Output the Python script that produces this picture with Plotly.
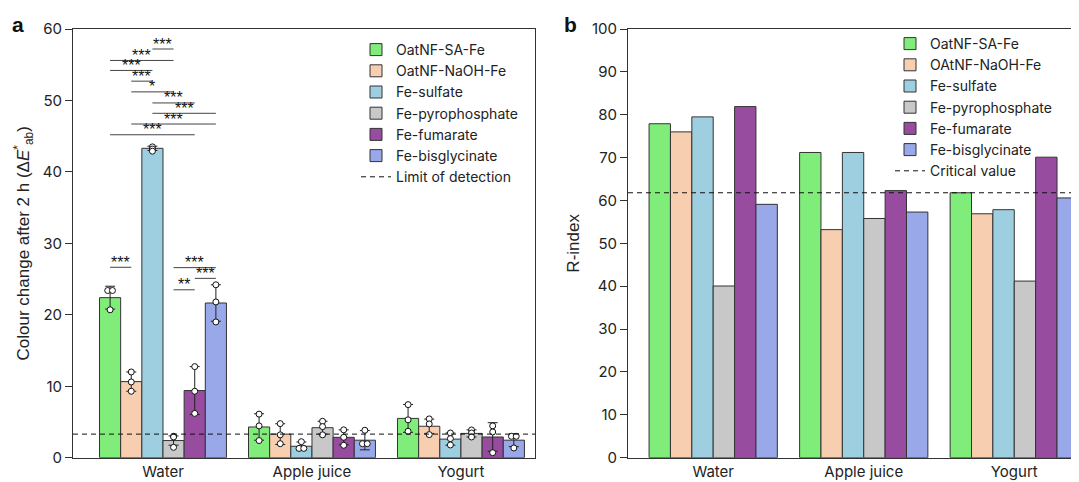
import numpy as np
import plotly.graph_objects as go

# ---------------- data ----------------
categories = ["Water", "Apple juice", "Yogurt"]
series_a = ["OatNF-SA-Fe", "OatNF-NaOH-Fe", "Fe-sulfate", "Fe-pyrophosphate", "Fe-fumarate", "Fe-bisglycinate"]
series_b = ["OatNF-SA-Fe", "OAtNF-NaOH-Fe", "Fe-sulfate", "Fe-pyrophosphate", "Fe-fumarate", "Fe-bisglycinate"]
colors = ["#80ec7a", "#f7cfb0", "#9ecfe0", "#c8c8c8", "#984ca0", "#98a8e8"]

# panel a: mean colour change (Water, Apple juice, Yogurt)
mean_sa = [22.4, 4.3, 5.5]
mean_naoh = [10.65, 3.3, 4.4]
mean_sulfate = [43.3, 1.6, 2.6]
mean_pyro = [2.4, 4.2, 3.4]
mean_fumarate = [9.4, 2.85, 2.9]
mean_bisgly = [21.65, 2.45, 2.45]

sd_sa = [1.6, 1.85, 1.95]
sd_naoh = [1.35, 1.45, 1.0]
sd_sulfate = [0.3, 0.6, 0.85]
sd_pyro = [0.65, 0.9, 0.5]
sd_fumarate = [3.35, 1.05, 2.0]
sd_bisgly = [2.55, 1.35, 0.9]

# replicate points [category][replicate]
rep_sa = [[23.4, 23.4, 20.7], [6.1, 4.45, 2.4], [7.43, 5.3, 3.7]]
rep_naoh = [[12.0, 10.6, 9.3], [4.77, 3.2, 1.96], [5.43, 4.73, 3.23]]
rep_sulfate = [[43.5, 43.2, 42.9], [2.24, 1.3, 1.3], [3.46, 2.67, 1.78]]
rep_pyro = [[3.0, 2.9, 1.45], [5.1, 4.35, 3.2], [3.88, 3.46, 2.9]]
rep_fumarate = [[12.75, 9.3, 6.2], [3.9, 2.86, 1.74], [4.45, 3.6, 0.7]]
rep_bisgly = [[24.2, 21.8, 19.0], [3.84, 1.96, 1.96], [3.0, 3.0, 1.36]]

limit_of_detection = 3.3

# significance brackets in Water group: (series i, series j, height, label)
brackets = [
    (2, 3, 57.2, "***"),
    (0, 3, 55.6, "***"),
    (0, 2, 54.2, "***"),
    (1, 2, 52.7, "***"),
    (1, 3, 51.2, "*"),
    (2, 4, 49.65, "***"),
    (2, 5, 48.2, "***"),
    (1, 5, 46.7, "***"),
    (0, 4, 45.2, "***"),
    (0, 1, 26.65, "***"),
    (3, 5, 26.6, "***"),
    (4, 5, 25.1, "***"),
    (3, 4, 23.5, "**"),
]

# panel b: R-index
r_sa = [77.9, 71.2, 61.8]
r_naoh = [76.0, 53.2, 56.9]
r_sulfate = [79.5, 71.2, 57.85]
r_pyro = [40.05, 55.8, 41.2]
r_fumarate = [81.9, 62.3, 70.1]
r_bisgly = [59.1, 57.3, 60.6]
critical_value = 61.8

means_a = [mean_sa, mean_naoh, mean_sulfate, mean_pyro, mean_fumarate, mean_bisgly]
sds_a = [sd_sa, sd_naoh, sd_sulfate, sd_pyro, sd_fumarate, sd_bisgly]
reps_a = [rep_sa, rep_naoh, rep_sulfate, rep_pyro, rep_fumarate, rep_bisgly]
vals_b = [r_sa, r_naoh, r_sulfate, r_pyro, r_fumarate, r_bisgly]

# ---------------- layout helpers ----------------
OFF = 8  # page body margin
W, H = 1079 - OFF, 482 - OFF
def PX(x):
    return (x - OFF) / W
def PY(y):
    return 1 - (y - OFF) / H

BW = 0.142  # bar width in category units
gidx = np.arange(len(categories))
def offs(i):
    return (i - 2.5) * BW

TICKFONT = dict(family="Inter, Liberation Sans, sans-serif", size=15, color="#222")
LEGFONT = dict(family="Inter, Liberation Sans, sans-serif", size=14, color="#222")
TITLEFONT = dict(family="Liberation Sans, Arial, sans-serif", size=17, color="#222")

fig = go.Figure()

# panel a bars
for i, name in enumerate(series_a):
    fig.add_trace(go.Bar(
        x=gidx + offs(i), y=means_a[i], width=BW, name=name,
        marker=dict(color=colors[i], line=dict(color="#333", width=1)),
        error_y=dict(type="data", array=sds_a[i], color="#222", thickness=1, width=5),
        xaxis="x", yaxis="y", legend="legend", legendgroup="a%d" % i,
        hoverinfo="skip",
    ))
# replicate points
for i in range(len(series_a)):
    px, py = [], []
    for g in range(len(categories)):
        reps = reps_a[i][g]
        for k, v in enumerate(reps):
            dup = sum(1 for vv in reps if abs(vv - v) < 1e-9) > 1
            first = reps.index(v) == k
            dx = (-0.016 if first else 0.016) if dup else 0.0
            px.append(g + offs(i) + dx)
            py.append(v)
    fig.add_trace(go.Scatter(
        x=px, y=py, mode="markers", showlegend=False,
        marker=dict(color="white", size=6, line=dict(color="#111", width=1)),
        xaxis="x", yaxis="y", hoverinfo="skip",
    ))

# panel b bars
for i, name in enumerate(series_b):
    fig.add_trace(go.Bar(
        x=gidx + offs(i), y=vals_b[i], width=BW, name=name,
        marker=dict(color=colors[i], line=dict(color="#333", width=1)),
        xaxis="x2", yaxis="y2", legend="legend2", legendgroup="b%d" % i,
        hoverinfo="skip",
    ))

shapes = []
annotations = []
# dashed reference lines (with legend entries)
shapes.append(dict(type="line", xref="x domain", yref="y", x0=0, x1=1,
                   y0=limit_of_detection, y1=limit_of_detection,
                   line=dict(color="#111", width=1, dash="5px,4px"),
                   showlegend=True, name="Limit of detection", legend="legend",
                   legendgroup="a9"))
shapes.append(dict(type="line", xref="x2 domain", yref="y2", x0=0, x1=1,
                   y0=critical_value, y1=critical_value,
                   line=dict(color="#111", width=1, dash="5px,4px"),
                   showlegend=True, name="Critical value", legend="legend2",
                   legendgroup="b9"))

# significance brackets
for (i, j, yv, lab) in brackets:
    x0 = gidx[0] + offs(i)
    x1 = gidx[0] + offs(j)
    shapes.append(dict(type="line", xref="x", yref="y", x0=x0, x1=x1, y0=yv, y1=yv,
                       line=dict(color="#444", width=1)))
    annotations.append(dict(x=(x0 + x1) / 2, y=yv, xref="x", yref="y", text=lab,
                            showarrow=False, yanchor="middle", yshift=5,
                            font=dict(family="Liberation Sans, Arial, sans-serif", size=16, color="#111")))

# panel labels
annotations.append(dict(x=PX(18), y=PY(24), xref="paper", yref="paper", text="<b>a</b>",
                        showarrow=False, xanchor="center", yanchor="middle",
                        font=dict(family="Liberation Sans, Arial, sans-serif", size=21, color="#111")))
annotations.append(dict(x=PX(570), y=PY(24), xref="paper", yref="paper", text="<b>b</b>",
                        showarrow=False, xanchor="center", yanchor="middle",
                        font=dict(family="Liberation Sans, Arial, sans-serif", size=21, color="#111")))

ydom = [PY(457.7), PY(29)]
axis_common = dict(showline=True, linecolor="#333", linewidth=1, mirror=True,
                   showgrid=False, zeroline=False, tickfont=TICKFONT, automargin=False)

fig.update_layout(
    width=W, height=H, margin=dict(l=0, r=0, t=0, b=0, autoexpand=False),
    paper_bgcolor="white", plot_bgcolor="white",
    barmode="overlay", showlegend=True,
    xaxis=dict(domain=[PX(73), PX(535)], range=[-0.604, 2.497],
               tickvals=list(gidx), ticktext=categories, ticks="", **axis_common),
    yaxis=dict(domain=ydom, range=[0, 60], dtick=10, ticks="outside", ticklen=7,
               tickcolor="#333", anchor="x",
               title=dict(text="Colour change after 2 h (Δ<i>E</i><sup>*</sup><sub>ab</sub>)",
                          font=TITLEFONT, standoff=8), **axis_common),
    xaxis2=dict(domain=[PX(628), 1.0], range=[-0.566, 2.43], anchor="y2",
                tickvals=list(gidx), ticktext=categories, ticks="", **axis_common),
    yaxis2=dict(domain=ydom, range=[0, 100], dtick=10, ticks="outside", ticklen=7,
                tickcolor="#333", anchor="x2",
                title=dict(text="R-index", font=TITLEFONT, standoff=8), **axis_common),
    legend=dict(x=PX(356), y=PY(34), xanchor="left", yanchor="top",
                font=LEGFONT, bgcolor="rgba(0,0,0,0)", tracegroupgap=0,
                itemclick=False),
    legend2=dict(x=PX(890), y=PY(28), xanchor="left", yanchor="top",
                 font=LEGFONT, bgcolor="rgba(0,0,0,0)", tracegroupgap=0,
                 itemclick=False),
    shapes=shapes, annotations=annotations,
)

fig.write_html("out.html")
